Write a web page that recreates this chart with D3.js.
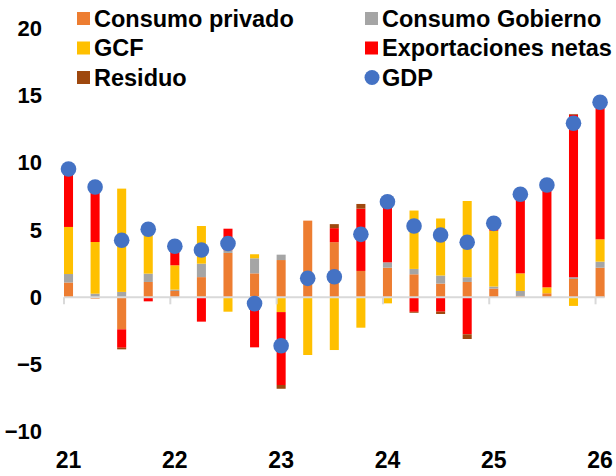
<!DOCTYPE html>
<html>
<head>
<meta charset="utf-8">
<script src="https://cdn.jsdelivr.net/npm/d3@7"></script>
<style>
  body { margin: 0; background: #fff; }
  svg text { font-family: "Liberation Sans", Arial, sans-serif; font-weight: bold; fill: #000; }
</style>
</head>
<body>
<svg id="chart" width="616" height="476"></svg>
<script>
// trimestres 2021T1 .. 2026T1
var quarters = ['21T1','21T2','21T3','21T4','22T1','22T2','22T3','22T4','23T1','23T2','23T3','23T4',
  '24T1','24T2','24T3','24T4','25T1','25T2','25T3','25T4','26T1'];
var yearLabels = ['21', '22', '23', '24', '25', '26'];
var yTicks = [-10, -5, 0, 5, 10, 15, 20];

var consumoPrivado = [1.1, -0.1, -2.38, 1.14, 0.47, 1.5, 3.3, 1.78, 2.77, 5.7, 4.1, 1.96, 2.2, 1.71, 1.02, 1.14, 0.65, 0.1, 0.3, 1.36, 2.2];
var consumoGobierno = [0.63, 0.27, 0.4, 0.62, 0.1, 1.0, 0.2, 1.12, 0.4, 0, 0, 0, 0.4, 0.4, 0.6, 0.35, 0.15, 0.37, 0, 0.13, 0.45];
var gcf = [3.5, 3.84, 7.68, 3.6, 1.81, 2.8, -1.07, 0.3, -1.1, -4.29, -3.92, -2.26, -0.45, 4.34, 4.24, 5.67, 4.15, 1.31, 0.44, -0.64, 1.66];
var exportNetas = [4.3, 4.19, -1.37, -0.3, 1.42, -1.81, 1.6, -3.72, -5.42, 0, 1.04, 4.63, 4.95, -1.08, -1.07, -2.75, 0.55, 5.88, 7.61, 12.09, 10.19];
var residuo = [0, 0, -0.12, 0, 0, 0, 0, 0, -0.28, 0, 0.3, 0.35, 0, -0.07, -0.17, -0.35, 0, 0, 0, 0.05, 0];
var gdp = [9.54, 8.2, 4.24, 5.06, 3.8, 3.52, 4.0, -0.47, -3.6, 1.41, 1.53, 4.68, 7.1, 5.3, 4.63, 4.09, 5.5, 7.66, 8.35, 12.94, 14.5];

var keys = ['Consumo privado', 'Consumo Gobierno', 'GCF', 'Exportaciones netas', 'Residuo'];
var colors = ['#ED7D31', '#A5A5A5', '#FFC000', '#FF0000', '#9E480E'];
var series = [consumoPrivado, consumoGobierno, gcf, exportNetas, residuo];

var rows = quarters.map(function(q, i) {
  var r = { q: q };
  keys.forEach(function(k, j) { r[k] = series[j][i]; });
  return r;
});

var svg = d3.select('#chart');

var x = d3.scaleBand()
  .domain(quarters)
  .range([64, 604.6])
  .paddingInner(0.66)
  .paddingOuter(0);

var y = d3.scaleLinear()
  .domain([-10, 20])
  .range([431.8, 28.3]);

var stack = d3.stack()
  .keys(keys)
  .offset(d3.stackOffsetDiverging);

var stacked = stack(rows);

// barras
svg.append('g')
  .selectAll('g')
  .data(stacked)
  .enter()
  .append('g')
  .attr('fill', function(d, i) { return colors[i]; })
  .selectAll('rect')
  .data(function(d) { return d; })
  .enter()
  .append('rect')
  .attr('x', function(d) { return x(d.data.q); })
  .attr('width', x.bandwidth())
  .attr('y', function(d) { return y(Math.max(d[0], d[1])); })
  .attr('height', function(d) { return Math.abs(y(d[0]) - y(d[1])); });

// eje x
svg.append('line')
  .attr('x1', x.range()[0])
  .attr('x2', x.range()[1])
  .attr('y1', y(0))
  .attr('y2', y(0))
  .attr('stroke', '#d9d9d9')
  .attr('stroke-width', 2);

var yearQ = quarters.filter(function(q, i) { return i % 4 === 0; });

svg.append('g')
  .selectAll('line')
  .data(yearQ)
  .enter()
  .append('line')
  .attr('x1', function(d) { return x(d); })
  .attr('x2', function(d) { return x(d); })
  .attr('y1', y(0))
  .attr('y2', y(0) + 7)
  .attr('stroke', '#d9d9d9')
  .attr('stroke-width', 2);

var xAxis = svg.append('g')
  .attr('transform', 'translate(0,452)')
  .call(d3.axisBottom(x)
    .tickValues(yearQ)
    .tickSize(0)
    .tickPadding(0)
    .tickFormat(function(d, i) { return yearLabels[i]; }));
xAxis.select('.domain').remove();
xAxis.selectAll('text')
  .attr('dy', '0.71em')
  .style('font-size', '23px')
  .style('font-family', '"Liberation Sans", Arial, sans-serif');

// eje y
var yAxis = svg.append('g')
  .attr('transform', 'translate(42,0)')
  .call(d3.axisLeft(y)
    .tickValues(yTicks)
    .tickSize(0)
    .tickPadding(0));
yAxis.select('.domain').remove();
yAxis.selectAll('text')
  .style('font-size', '22px')
  .style('font-family', '"Liberation Sans", Arial, sans-serif');

// GDP puntos
svg.append('g')
  .selectAll('circle')
  .data(gdp)
  .enter()
  .append('circle')
  .attr('cx', function(d, i) { return x(quarters[i]) + x.bandwidth() / 2; })
  .attr('cy', function(d) { return y(d); })
  .attr('r', 7.8)
  .attr('fill', '#4472C4');

// leyenda
var legendItems = [
  { name: 'Consumo privado', color: colors[0], col: 0, row: 0 },
  { name: 'Consumo Gobierno', color: colors[1], col: 1, row: 0 },
  { name: 'GCF', color: colors[2], col: 0, row: 1 },
  { name: 'Exportaciones netas', color: colors[3], col: 1, row: 1 },
  { name: 'Residuo', color: colors[4], col: 0, row: 2 },
  { name: 'GDP', color: '#4472C4', col: 1, row: 2, dot: true }
];
var colX = [77, 365];
var rowY = [18.5, 48, 77.5];

var lg = svg.append('g')
  .selectAll('g')
  .data(legendItems)
  .enter()
  .append('g')
  .attr('transform', function(d) { return 'translate(' + colX[d.col] + ',' + rowY[d.row] + ')'; });

lg.filter(function(d) { return !d.dot; })
  .append('rect')
  .attr('x', 0)
  .attr('y', -6.5)
  .attr('width', 13)
  .attr('height', 13)
  .attr('fill', function(d) { return d.color; });

lg.filter(function(d) { return d.dot; })
  .append('circle')
  .attr('cx', 7)
  .attr('cy', 0)
  .attr('r', 7.5)
  .attr('fill', function(d) { return d.color; });

lg.append('text')
  .attr('x', 17)
  .attr('y', 0)
  .attr('dy', '0.36em')
  .style('font-size', '23.5px')
  .text(function(d) { return d.name; });
</script>
</body>
</html>
